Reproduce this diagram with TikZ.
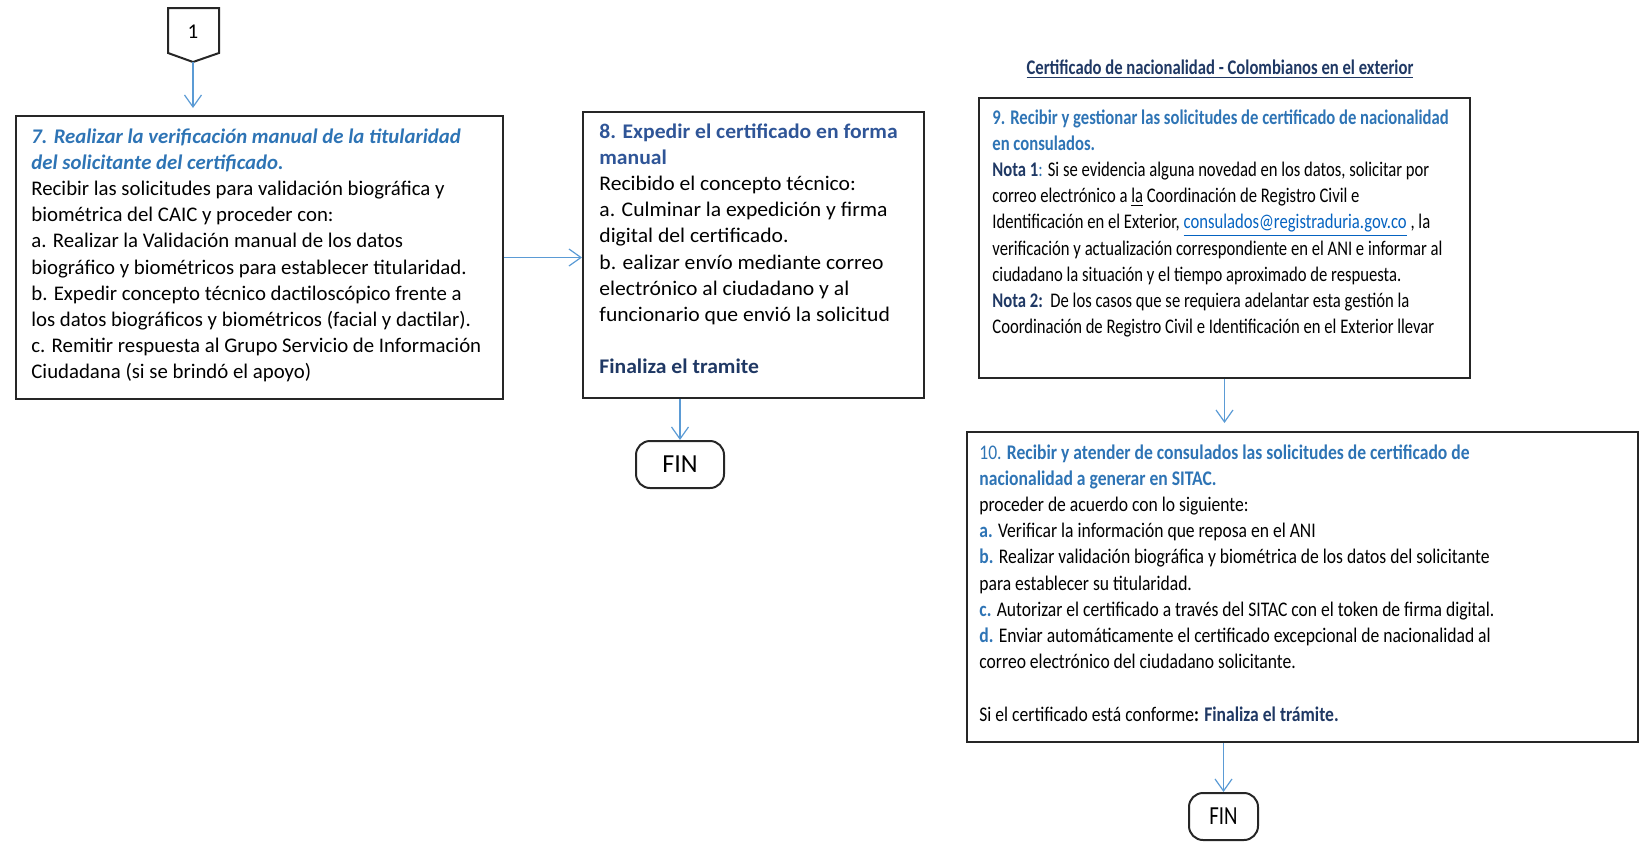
\documentclass[tikz,border=0pt]{standalone}
\usepackage{fontspec}
\setmainfont{Carlito}
\newfontfamily\anchaocho[FakeStretch=1.04]{Carlito}
\newfontfamily\estrechanueve[FakeStretch=0.80]{Carlito}
\newfontfamily\estrechadiez[FakeStretch=0.845]{Carlito}
\usetikzlibrary{arrows.meta,calc}

\definecolor{azulpaso}{HTML}{2E74B5}
\definecolor{azulocho}{HTML}{2F5597}
\definecolor{azulosc}{HTML}{1F3864}
\definecolor{enlace}{HTML}{0563C1}
\definecolor{azulflecha}{HTML}{5B9BD5}

\newcommand{\titazul}[1]{\textcolor{azulpaso}{\textbf{#1}}}
\newcommand{\titocho}[1]{\textcolor{azulocho}{\textbf{#1}}}
\newcommand{\finosc}[1]{\textcolor{azulosc}{\textbf{#1}}}
\newcommand{\letra}[1]{\textcolor{azulpaso}{\textbf{#1}}}

\begin{document}
\begin{tikzpicture}[x=0.5pt, y=-0.5pt,
	caja/.style={draw=black!85, line width=1pt, anchor=north west, inner sep=0pt},
	texto/.style={anchor=north west, inner sep=0pt, align=left, font=\fontsize{10.4}{13.1}\selectfont},
	flecha/.style={draw=azulflecha, line width=0.6pt, -{Straight Barb[length=6pt,width=8.5pt]}},
	fin/.style={draw=black!85, line width=1pt, rounded corners=7pt, inner sep=0pt, minimum height=23.5pt}
]

	\useasboundingbox (0,0) rectangle (1639,841);

	% CONECTOR 1
	\draw[line width=1pt, draw=black!85] (168,8) -- (219,8) -- (219,53) -- (193,62) -- (168,53) -- cycle;
	\node[font=\fontsize{10.5}{13}\selectfont] (uno) at (193,32) {1};
	\coordinate (puntaUno) at (193,62);

	% PASO 7
	\node[caja, minimum width=243.5pt, minimum height=141.5pt] (paso7) at (15,115) {};
	\node[texto] (texto7) at ($(paso7.north west)+(16,13)$) {%
		\textcolor{azulpaso}{\textbf{\textit{7. Realizar la verificación manual de la titularidad}}}\\
		\textcolor{azulpaso}{\textbf{\textit{del solicitante del certificado.}}}\\
		Recibir las solicitudes para validación biográfica y\\
		biométrica del CAIC y proceder con:\\
		a. Realizar la Validación manual de los datos\\
		biográfico y biométricos para establecer titularidad.\\
		b. Expedir concepto técnico dactiloscópico frente a\\
		los datos biográficos y biométricos (facial y dactilar).\\
		c. Remitir respuesta al Grupo Servicio de Información\\
		Ciudadana (si se brindó el apoyo)};

	% PASO 8
	\node[caja, minimum width=170.5pt, minimum height=143pt] (paso8) at (582,111) {};
	\node[texto, font=\anchaocho\fontsize{10.4}{13.1}\selectfont] (texto8) at ($(paso8.north west)+(17,12)$) {%
		\titocho{8. Expedir el certificado en forma}\\
		\titocho{manual}\\
		Recibido el concepto técnico:\\
		a. Culminar la expedición y firma\\
		digital del certificado.\\
		b. ealizar envío mediante correo\\
		electrónico al ciudadano y al\\
		funcionario que envió la solicitud\\[13.1pt]
		\finosc{Finaliza el tramite}};

	\node[fin, minimum width=44pt, font=\fontsize{13}{15}\selectfont] (fin1) at (680,464.5) {FIN};

	% COLOMBIANOS EN EL EXTERIOR
	\node[font=\estrechanueve\fontsize{10.4}{13}\selectfont\bfseries, text=azulosc] (titulo) at (1220,69) {\underline{Certificado de nacionalidad - Colombianos en el exterior}};

	% PASO 9
	\node[caja, minimum width=245.5pt, minimum height=140pt] (paso9) at (978,97) {};
	\node[texto, font=\estrechanueve\fontsize{10.4}{13.1}\selectfont] (texto9) at ($(paso9.north west)+(14,12)$) {%
		\titazul{9. Recibir y gestionar las solicitudes de certificado de nacionalidad}\\
		\titazul{en consulados.}\\
		\finosc{Nota 1}\textcolor{azulpaso}{:} Si se evidencia alguna novedad en los datos, solicitar por\\
		correo electrónico a \underline{la} Coordinación de Registro Civil e\\
		Identificación en el Exterior, \textcolor{enlace}{\underline{consulados@registraduria.gov.co}} , la\\
		verificación y actualización correspondiente en el ANI e informar al\\
		ciudadano la situación y el tiempo aproximado de respuesta.\\
		\finosc{Nota 2:}\ \ De los casos que se requiera adelantar esta gestión la\\
		Coordinación de Registro Civil e Identificación en el Exterior llevar};

	% PASO 10
	\node[caja, minimum width=335.5pt, minimum height=155pt] (paso10) at (966,431) {};
	\node[texto, font=\estrechadiez\fontsize{10.4}{13.1}\selectfont] (texto10) at ($(paso10.north west)+(13,13)$) {%
		\textcolor{azulpaso}{10. \textbf{Recibir y atender de consulados las solicitudes de certificado de}}\\
		\titazul{nacionalidad a generar en SITAC.}\\
		proceder de acuerdo con lo siguiente:\\
		\letra{a.} Verificar la información que reposa en el ANI\\
		\letra{b.} Realizar validación biográfica y biométrica de los datos del solicitante\\
		para establecer su titularidad.\\
		\letra{c.} Autorizar el certificado a través del SITAC con el token de firma digital.\\
		\letra{d.} Enviar automáticamente el certificado excepcional de nacionalidad al\\
		correo electrónico del ciudadano solicitante.\\[13.1pt]
		Si el certificado está conforme\textbf{:} \finosc{Finaliza el trámite.}};

	\node[fin, minimum width=34.5pt, font=\estrechanueve\fontsize{13}{15}\selectfont] (fin2) at (1223.5,816.5) {FIN};

	% FLECHAS
	\draw[flecha, shorten >=3.5pt] (puntaUno) -- (puntaUno |- paso7.north);
	\draw[flecha] (paso7.east) -- (paso7.east -| paso8.west);
	\draw[flecha] (fin1.north |- paso8.south) -- (fin1.north);
	\draw[flecha, shorten >=4pt] (paso9.south) -- (paso9.south |- paso10.north);
	\draw[flecha] (fin2.north |- paso10.south) -- (fin2.north);

\end{tikzpicture}
\end{document}
